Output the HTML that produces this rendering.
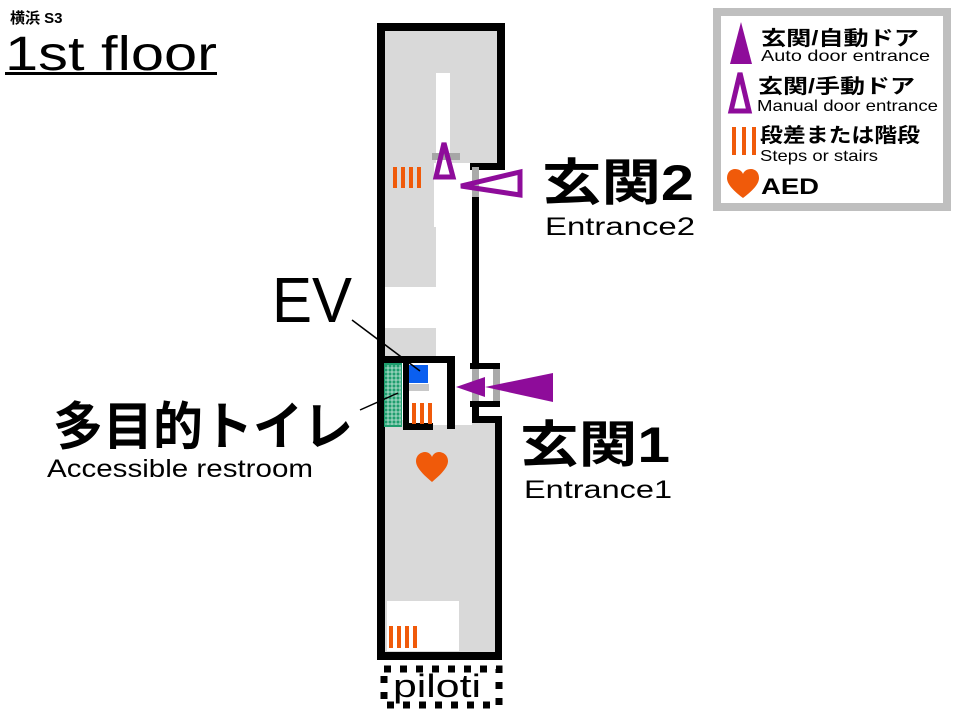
<!DOCTYPE html>
<html><head><meta charset="utf-8"><style>html,body{margin:0;padding:0;background:#fff}svg{display:block}text{font-family:"Liberation Sans","Noto Sans CJK JP",sans-serif}</style></head><body>
<svg width="960" height="720" viewBox="0 0 960 720" xmlns="http://www.w3.org/2000/svg">
<rect width="960" height="720" fill="#fff"/>
<rect x="385" y="30" width="112" height="140" fill="#d9d9d9"/>
<rect x="385" y="165" width="87" height="200" fill="#d9d9d9"/>
<rect x="385" y="420" width="112" height="233" fill="#d9d9d9"/>
<rect x="436" y="73" width="14" height="92" fill="#fff"/>
<rect x="434" y="163" width="38" height="64" fill="#fff"/>
<rect x="436" y="227" width="36" height="130" fill="#fff"/>
<rect x="385" y="287" width="87" height="41" fill="#fff"/>
<rect x="440" y="328" width="32" height="30" fill="#fff"/>
<rect x="409" y="363" width="63" height="62" fill="#fff"/>
<rect x="387" y="601" width="72" height="50" fill="#fff"/>
<rect x="385" y="357" width="87" height="8" fill="#fff"/>
<g fill="#000">
<rect x="377" y="23" width="8" height="637"/>
<rect x="377" y="23" width="128" height="8"/>
<rect x="497" y="23" width="8" height="147"/>
<rect x="470" y="163" width="35" height="7"/>
<rect x="472" y="163" width="7" height="205"/>
<rect x="470" y="363" width="30" height="6"/>
<rect x="470" y="401" width="30" height="6"/>
<rect x="472" y="401" width="7" height="20"/>
<rect x="472" y="416" width="30" height="7"/>
<rect x="495" y="416" width="7" height="244"/>
<rect x="377" y="652" width="125" height="8"/>
<rect x="385" y="356" width="70" height="7"/>
<rect x="447" y="356" width="8" height="73"/>
<rect x="403" y="363" width="6" height="66"/>
<rect x="403" y="423" width="30" height="7"/>
</g>
<rect x="472" y="167" width="7" height="30" fill="#aaa"/>
<rect x="472" y="369" width="7" height="32" fill="#aaa"/>
<rect x="493" y="369" width="7" height="32" fill="#aaa"/>
<rect x="432" y="153" width="28" height="7" fill="#a6a6a6"/>
<rect x="384" y="363" width="18" height="64" fill="#1e9e6e"/>
<g stroke="#fff" stroke-width="0.8" opacity="0.8">
<path d="M388 365V425M392 365V425M396 365V425M400 365V425"/>
<path d="M385 368H401M385 372H401M385 376H401M385 380H401M385 384H401M385 388H401M385 392H401M385 396H401M385 400H401M385 404H401M385 408H401M385 412H401M385 416H401M385 420H401M385 424H401"/>
</g>
<rect x="409" y="365" width="19" height="18" fill="#0a5ff0"/>
<rect x="409" y="384" width="20" height="7" fill="#c8c8c8"/>
<g fill="#f05a0a">
<rect x="393" y="167" width="4" height="21"/><rect x="401" y="167" width="4" height="21"/><rect x="409" y="167" width="4" height="21"/><rect x="417" y="167" width="4" height="21"/>
<rect x="412" y="403" width="4" height="21"/><rect x="420" y="403" width="4" height="21"/><rect x="428" y="403" width="4" height="21"/>
<rect x="389" y="626" width="4" height="22"/><rect x="397" y="626" width="4" height="22"/><rect x="405" y="626" width="4" height="22"/><rect x="413" y="626" width="4" height="22"/>
</g>
<path d="M432 482 C420 472 416 466 416 461 C416 455 421 452 425 452 C428 452 431 454 432 457 C433 454 436 452 439 452 C443 452 448 455 448 461 C448 466 444 472 432 482Z" fill="#f05a0a"/>
<polygon points="444,143 436,177 453,177" fill="none" stroke="#8e0c9a" stroke-width="5"/>
<polygon points="461,186 520,172 520,195" fill="none" stroke="#8e0c9a" stroke-width="5"/>
<polygon points="456,387 485,377 485,397" fill="#8e0c9a"/>
<polygon points="485,387 553,373 553,402" fill="#8e0c9a"/>
<line x1="352" y1="320" x2="420" y2="371" stroke="#000" stroke-width="1.5"/>
<line x1="360" y1="410" x2="398" y2="393" stroke="#000" stroke-width="1.5"/>
<rect x="384" y="669" width="115" height="36" fill="none" stroke="#000" stroke-width="7" stroke-dasharray="7,9"/>
<text x="393" y="697" font-size="32" textLength="88" lengthAdjust="spacingAndGlyphs">piloti</text>
<text x="10" y="23" font-size="15" font-weight="bold">横浜 S3</text>
<text x="5" y="70" font-size="48" textLength="212" lengthAdjust="spacingAndGlyphs">1st floor</text>
<rect x="5" y="72" width="212" height="3" fill="#000"/>
<text x="272" y="322" font-size="64" textLength="80" lengthAdjust="spacingAndGlyphs">EV</text>
<text x="53" y="445" font-size="52" font-weight="bold" textLength="300" lengthAdjust="spacingAndGlyphs">多目的トイレ</text>
<text x="47" y="477" font-size="25" textLength="266" lengthAdjust="spacingAndGlyphs">Accessible restroom</text>
<text x="542" y="200" font-size="50" font-weight="bold" textLength="152" lengthAdjust="spacingAndGlyphs">玄関2</text>
<text x="545" y="235" font-size="25" textLength="150" lengthAdjust="spacingAndGlyphs">Entrance2</text>
<text x="520" y="462" font-size="50" font-weight="bold" textLength="150" lengthAdjust="spacingAndGlyphs">玄関1</text>
<text x="524" y="498" font-size="25" textLength="148" lengthAdjust="spacingAndGlyphs">Entrance1</text>
<rect x="717" y="12" width="230" height="195" fill="#fff" stroke="#bfbfbf" stroke-width="8"/>
<polygon points="741,22 730,64 752,64" fill="#8e0c9a"/>
<text x="761" y="45" font-size="20" font-weight="bold" textLength="158" lengthAdjust="spacingAndGlyphs">玄関/自動ドア</text>
<text x="761" y="61" font-size="16" textLength="169" lengthAdjust="spacingAndGlyphs">Auto door entrance</text>
<polygon points="740,73 731,111 749,111" fill="none" stroke="#8e0c9a" stroke-width="5"/>
<text x="758" y="93" font-size="20" font-weight="bold" textLength="157" lengthAdjust="spacingAndGlyphs">玄関/手動ドア</text>
<text x="757" y="111" font-size="16" textLength="181" lengthAdjust="spacingAndGlyphs">Manual door entrance</text>
<g fill="#f05a0a"><rect x="732" y="127" width="4" height="28"/><rect x="742" y="127" width="4" height="28"/><rect x="752" y="127" width="4" height="28"/></g>
<text x="760" y="142" font-size="20" font-weight="bold" textLength="160" lengthAdjust="spacingAndGlyphs">段差または階段</text>
<text x="760" y="161" font-size="16" textLength="118" lengthAdjust="spacingAndGlyphs">Steps or stairs</text>
<path d="M743 198 C731 189 727 183 727 178 C727 172 731 169 735 169 C739 169 742 171 743 174 C744 171 747 169 751 169 C755 169 759 172 759 178 C759 183 755 189 743 198Z" fill="#f05a0a"/>
<text x="761" y="194" font-size="22" font-weight="bold" textLength="58" lengthAdjust="spacingAndGlyphs">AED</text>
</svg>
</body></html>
